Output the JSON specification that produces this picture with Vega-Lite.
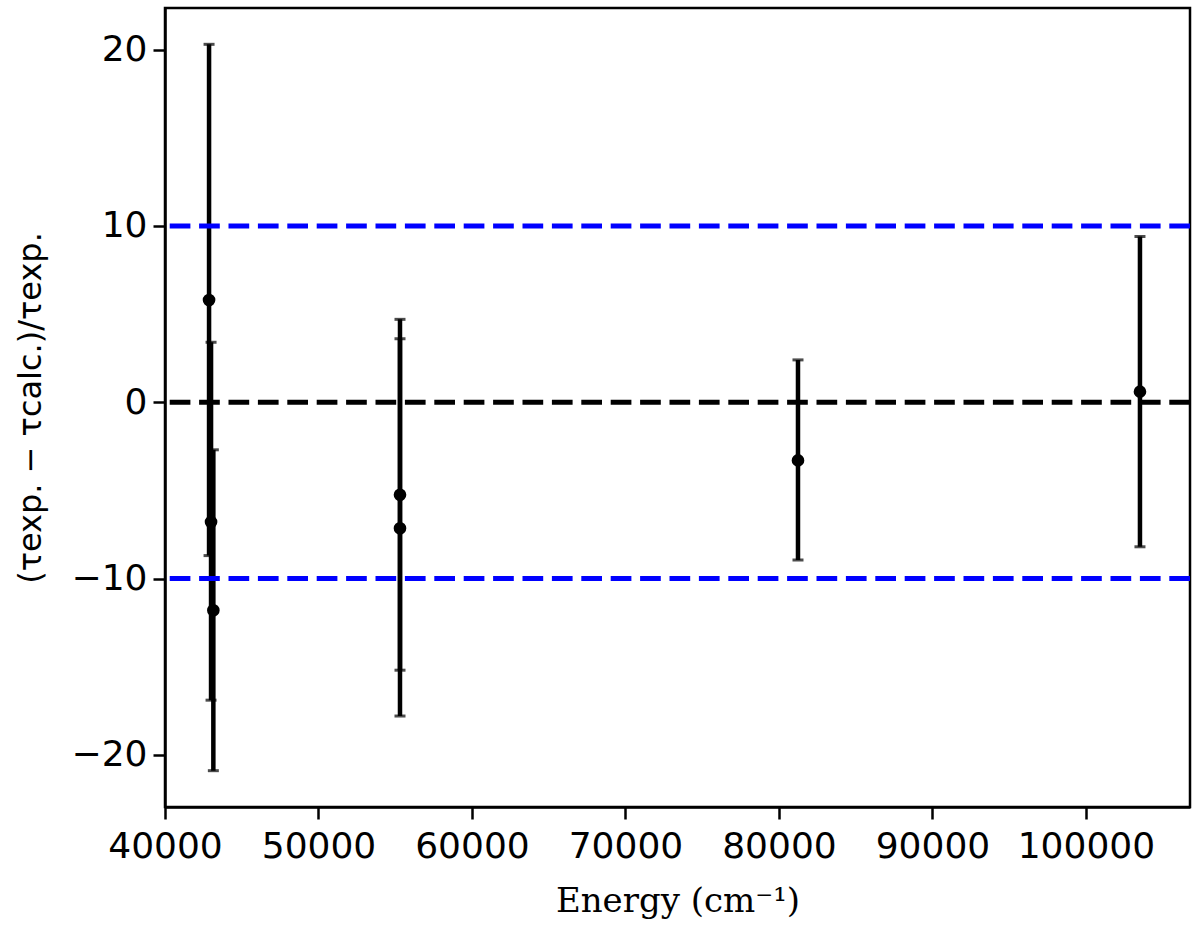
{
  "$schema": "https://vega.github.io/schema/vega-lite/v6.json",
  "autosize": {"type": "none"},
  "width": 1025,
  "height": 799,
  "padding": {"left": 165, "top": 8, "right": 10, "bottom": 124},
  "background": "white",
  "config": {
    "view": {"stroke": "black", "strokeWidth": 2.5},
    "axis": {
      "grid": false,
      "domainColor": "black",
      "domainWidth": 2.5,
      "tickColor": "black",
      "tickWidth": 2.5,
      "tickSize": 12,
      "labelColor": "black",
      "labelFont": "DejaVu Sans",
      "labelFontSize": 36,
      "labelOverlap": false,
      "labelFlush": false,
      "labelBound": false,
      "titleColor": "black",
      "titleFontWeight": "normal"
    }
  },
  "datasets": {
    "pts": [
      {"energy": 42870, "val": 5.8, "lo": -8.7, "hi": 20.3},
      {"energy": 43000, "val": -6.8, "lo": -16.9, "hi": 3.4},
      {"energy": 43150, "val": -11.8, "lo": -20.9, "hi": -2.7},
      {"energy": 55310, "val": -5.25, "lo": -15.2, "hi": 4.7},
      {"energy": 55310, "val": -7.15, "lo": -17.8, "hi": 3.6},
      {"energy": 81240, "val": -3.3, "lo": -8.95, "hi": 2.4},
      {"energy": 103520, "val": 0.6, "lo": -8.2, "hi": 9.4}
    ],
    "refs": [
      {"level": 10, "kind": "limit"},
      {"level": -10, "kind": "limit"},
      {"level": 0, "kind": "zero"}
    ]
  },
  "layer": [
    {
      "data": {"name": "pts"},
      "mark": {"type": "rule", "color": "black", "strokeWidth": 4.5},
      "encoding": {
        "x": {
          "field": "energy",
          "type": "quantitative",
          "scale": {"domain": [40000, 106780], "nice": false, "zero": false},
          "axis": {
            "values": [40000, 50000, 60000, 70000, 80000, 90000, 100000],
            "format": "d",
            "labelPadding": 10,
            "title": "Energy (cm⁻¹)",
            "titleFont": "DejaVu Serif",
            "titleFontSize": 34,
            "titlePadding": 20
          }
        },
        "y": {
          "field": "lo",
          "type": "quantitative",
          "scale": {"domain": [-22.96, 22.36], "nice": false, "zero": false},
          "axis": {
            "values": [-20, -10, 0, 10, 20],
            "labelPadding": 6,
            "title": "(τexp. − τcalc.)/τexp.",
            "titleFont": "DejaVu Sans",
            "titleFontSize": 32,
            "titlePadding": 24
          }
        },
        "y2": {"field": "hi"}
      }
    },
    {
      "data": {"name": "pts"},
      "mark": {"type": "tick", "orient": "horizontal", "color": "black", "size": 11, "thickness": 3},
      "encoding": {
        "x": {"field": "energy", "type": "quantitative"},
        "y": {"field": "lo", "type": "quantitative"}
      }
    },
    {
      "data": {"name": "pts"},
      "mark": {"type": "tick", "orient": "horizontal", "color": "black", "size": 11, "thickness": 3},
      "encoding": {
        "x": {"field": "energy", "type": "quantitative"},
        "y": {"field": "hi", "type": "quantitative"}
      }
    },
    {
      "data": {"name": "pts"},
      "mark": {"type": "circle", "color": "black", "opacity": 1, "size": 160},
      "encoding": {
        "x": {"field": "energy", "type": "quantitative"},
        "y": {"field": "val", "type": "quantitative"}
      }
    },
    {
      "data": {"name": "refs"},
      "mark": {"type": "rule", "strokeWidth": 5, "strokeDash": [20.7, 8.7]},
      "encoding": {
        "y": {"field": "level", "type": "quantitative"},
        "color": {
          "field": "kind",
          "type": "nominal",
          "scale": {"domain": ["limit", "zero"], "range": ["#0000ff", "#000000"]},
          "legend": null
        }
      }
    }
  ]
}
